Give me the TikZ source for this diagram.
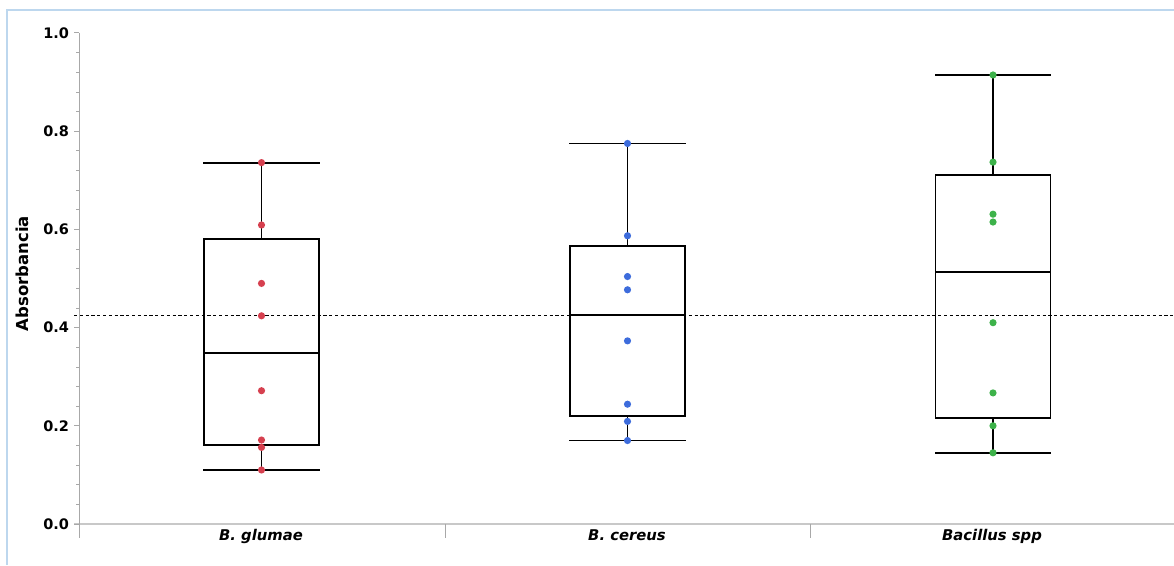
\documentclass[tikz,border=0pt]{standalone}
\usepackage{fontspec}
\setmainfont{DejaVu Sans}
\usepackage{tikz}

\definecolor{framebl}{HTML}{BDD7EE}
\definecolor{axisgray}{HTML}{C8C8C8}
\definecolor{tickgray}{HTML}{A8A8A8}
\definecolor{ptred}{HTML}{D6404F}
\definecolor{ptblue}{HTML}{3D6CDC}
\definecolor{ptgreen}{HTML}{3DB24A}

% one box with whiskers: center, min, q1, median, q3, max
\newcommand{\whiskerbox}[6]{%
\draw[boxline] (#1,#6) -- (#1,#5);
\draw[boxline] (#1,#2) -- (#1,#3);
\draw[boxline] (#1-57.5,#6) -- (#1+57.5,#6);
\draw[boxline] (#1-57.5,#2) -- (#1+57.5,#2);
\draw[boxline] (#1-57.5,#3) rectangle (#1+57.5,#5);
\draw[boxline] (#1-57.5,#4) -- (#1+57.5,#4);
}

\begin{document}
\begin{tikzpicture}[x=1pt,y=1pt,
  boxline/.style={line width=1.9pt, line cap=rect},
  dot/.style={circle, inner sep=0pt, minimum size=7.2pt, draw=none},
  ticklab/.style={anchor=east, font=\bfseries\fontsize{14.5}{15}\selectfont},
  catlab/.style={anchor=base, font=\bfseries\itshape\fontsize{14.8}{16}\selectfont}]
\useasboundingbox (0,0) rectangle (1174,565);

% frame
\draw[framebl, line width=2pt] (7,0) -- (7,555) -- (1174,555);

\begin{scope}[yshift=41pt, y=491pt]
% axes
\draw[axisgray, line width=1.6pt] (74,0) -- (1174,0);
\draw[tickgray, line width=1pt] (79,1.0) -- (79,-0.028);
\draw[tickgray, line width=1pt] (445,0) -- (445,-0.028);
\draw[tickgray, line width=1pt] (810,0) -- (810,-0.028);
\foreach \i in {1,...,24}
  \draw[tickgray, line width=0.8pt] (76,\i*0.04) -- (79,\i*0.04);
\foreach \v/\t [count=\i] in {0/0.0, 0.2/0.2, 0.4/0.4, 0.6/0.6, 0.8/0.8, 1.0/1.0} {
  \draw[tickgray, line width=1pt] (74,\v) -- (79,\v);
  \node[ticklab] (tick\i) at (72.5,\v) {\t};
}
\node[rotate=90, font=\bfseries\fontsize{16.5}{17}\selectfont] (ytitle) at (22,0.51) {Absorbancia};

% boxes
\whiskerbox{261.5}{0.11}{0.160}{0.3476}{0.58}{0.736}
\whiskerbox{627.5}{0.17}{0.22}{0.4257}{0.566}{0.775}
\whiskerbox{993}{0.145}{0.2165}{0.514}{0.711}{0.9145}

% mean line
\draw[line width=1.5pt, dash pattern=on 3.2pt off 2.6pt] (74,0.425) -- (1174,0.425);

% points
\foreach \v [count=\i] in {0.736,0.609,0.49,0.424,0.2715,0.171,0.156,0.11}
  \node[dot, fill=ptred] (gl\i) at (261.5,\v) {};
\foreach \v [count=\i] in {0.775,0.587,0.504,0.477,0.373,0.244,0.209,0.17}
  \node[dot, fill=ptblue] (ce\i) at (627.5,\v) {};
\foreach \v [count=\i] in {0.9145,0.737,0.631,0.615,0.41,0.267,0.2,0.145}
  \node[dot, fill=ptgreen] (sp\i) at (993,\v) {};

% categories
\node[catlab] (catgl) at (261,-0.0326) {B. glumae};
\node[catlab] (catce) at (627,-0.0326) {B. cereus};
\node[catlab] (catsp) at (992,-0.0326) {Bacillus spp};
\end{scope}
\end{tikzpicture}
\end{document}
